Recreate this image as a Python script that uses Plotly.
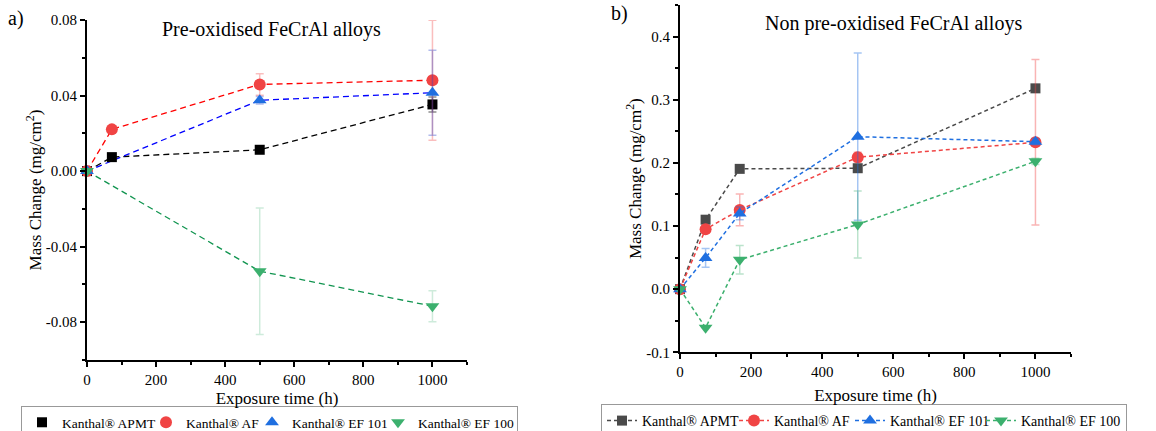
import plotly.graph_objects as go

# ---------------- data ----------------
series_names = ["Kanthal® APMT", "Kanthal® AF", "Kanthal® EF 101", "Kanthal® EF 100"]

# Panel a: pre-oxidised
a_apmt_x = [0, 72, 500, 1000]
a_apmt_y = [0.0, 0.0074, 0.0113, 0.0353]
a_apmt_err = [0, 0, 0, 0.004]

a_af_x = [0, 72, 500, 1000]
a_af_y = [0.0, 0.0221, 0.0459, 0.0481]
a_af_err = [0, 0, 0.0057, 0.0318]

a_ef101_x = [0, 500, 1000]
a_ef101_y = [0.0, 0.0375, 0.0415]
a_ef101_err = [0, 0.002, 0.0225]

a_ef100_x = [0, 500, 1000]
a_ef100_y = [0.0, -0.053, -0.0715]
a_ef100_err = [0, 0.0335, 0.0082]

# Panel b: non pre-oxidised
b_apmt_x = [0, 72, 168, 500, 1000]
b_apmt_y = [0.0, 0.110, 0.1905, 0.1915, 0.318]
b_apmt_err = [0, 0, 0, 0, 0]

b_af_x = [0, 72, 168, 500, 1000]
b_af_y = [0.0, 0.095, 0.1255, 0.209, 0.2325]
b_af_err = [0, 0.005, 0.025, 0.008, 0.131]

b_ef101_x = [0, 72, 168, 500, 1000]
b_ef101_y = [0.0, 0.0495, 0.120, 0.2415, 0.2335]
b_ef101_err = [0, 0.015, 0.01, 0.1325, 0.005]

b_ef100_x = [0, 72, 168, 500, 1000]
b_ef100_y = [0.0, -0.061, 0.0465, 0.1025, 0.2025]
b_ef100_err = [0, 0, 0.0225, 0.053, 0.005]

a_yticks = [-0.08, -0.04, 0.0, 0.04, 0.08]
a_yticktext = ["-0.08", "-0.04", "0.00", "0.04", "0.08"]
b_yticks = [-0.1, 0.0, 0.1, 0.2, 0.3, 0.4]
b_yticktext = ["-0.1", "0.0", "0.1", "0.2", "0.3", "0.4"]
xticks = [0, 200, 400, 600, 800, 1000]

# ---------------- styles ----------------
FONT = "Liberation Serif, Times New Roman, DejaVu Serif, serif"
a_marker_colors = ["#000000", "#F04444", "#1F6FE0", "#3CB06E"]
a_line_colors = ["#000000", "#FF0000", "#0000FF", "#10944F"]
a_err_colors = ["rgba(0,0,0,0.45)", "rgba(240,68,68,0.35)", "rgba(31,60,200,0.35)", "rgba(60,176,110,0.25)"]
b_colors = ["#4A4A4A", "#F04444", "#1F6FE0", "#3CB06E"]
b_err_colors = ["rgba(74,74,74,0.4)", "rgba(240,68,68,0.4)", "rgba(31,111,224,0.4)", "rgba(60,176,110,0.35)"]
symbols = ["square", "circle", "triangle-up", "triangle-down"]
sizes = [10, 12, 12, 12]
a_legend_w = [79, 61, 81, 94]
b_legend_w = [87, 71, 86, 100]

fig = go.Figure()

a_sets = [(a_apmt_x, a_apmt_y, a_apmt_err), (a_af_x, a_af_y, a_af_err),
          (a_ef101_x, a_ef101_y, a_ef101_err), (a_ef100_x, a_ef100_y, a_ef100_err)]
b_sets = [(b_apmt_x, b_apmt_y, b_apmt_err), (b_af_x, b_af_y, b_af_err),
          (b_ef101_x, b_ef101_y, b_ef101_err), (b_ef100_x, b_ef100_y, b_ef100_err)]

# panel a lines
for i, (x, y, e) in enumerate(a_sets):
    fig.add_trace(go.Scatter(x=x, y=y, mode="lines", xaxis="x", yaxis="y",
                             line=dict(color=a_line_colors[i], width=1.3, dash="6px,4px"),
                             showlegend=False, hoverinfo="skip"))
# panel a markers + error bars
for i, (x, y, e) in enumerate(a_sets):
    fig.add_trace(go.Scatter(x=x, y=y, mode="markers", xaxis="x", yaxis="y",
                             name=series_names[i], legend="legend", legendwidth=a_legend_w[i],
                             marker=dict(symbol=symbols[i], size=sizes[i], color=a_marker_colors[i]),
                             error_y=dict(type="data", array=e, visible=True, color=a_err_colors[i],
                                          thickness=1.5, width=4),
                             cliponaxis=False))
# panel b
for i, (x, y, e) in enumerate(b_sets):
    fig.add_trace(go.Scatter(x=x, y=y, mode="lines+markers", xaxis="x2", yaxis="y2",
                             name=series_names[i], legend="legend2", legendwidth=b_legend_w[i],
                             line=dict(color=b_colors[i], width=1.5, dash="4px,3px"),
                             marker=dict(symbol=symbols[i], size=sizes[i], color=b_colors[i]),
                             error_y=dict(type="data", array=e, visible=True, color=b_err_colors[i],
                                          thickness=1.5, width=4),
                             cliponaxis=False))

W, H = 1156, 431
TICKF = dict(family=FONT, size=15, color="black")
TITLEF = dict(family=FONT, size=17, color="black")
axis_common = dict(showline=True, linecolor="black", linewidth=2, ticks="outside",
                   tickcolor="black", tickwidth=2, ticklen=5, showgrid=False, zeroline=False,
                   tickfont=TICKF, mirror=False)
minor_x = dict(ticks="outside", ticklen=3, tickwidth=1.5, tickcolor="black", tick0=0, dtick=100)

fig.update_layout(
    width=W, height=H, plot_bgcolor="white", paper_bgcolor="white",
    margin=dict(l=0, r=0, t=0, b=0, autoexpand=False),
    font=dict(family=FONT, color="black"),
    xaxis=dict(domain=[87 / W, 467 / W], range=[0, 1100], tickvals=xticks, anchor="y",
               title=dict(text="Exposure time (h)", standoff=5, font=TITLEF),
               minor=minor_x, **axis_common),
    yaxis=dict(domain=[(H - 360) / H, (H - 20) / H], range=[-0.1, 0.08], tickvals=a_yticks,
               ticktext=a_yticktext, anchor="x",
               title=dict(text="Mass Change (mg/cm<sup>2</sup>)", standoff=0, font=TITLEF),
               minor=dict(ticks="outside", ticklen=3, tickwidth=1.5, tickcolor="black", tick0=0, dtick=0.02),
               **axis_common),
    xaxis2=dict(domain=[680 / W, 1071 / W], range=[0, 1100], tickvals=xticks, anchor="y2",
                title=dict(text="Exposure time (h)", standoff=10, font=TITLEF),
                minor=minor_x, **axis_common),
    yaxis2=dict(domain=[(H - 352.3) / H, (H - 5) / H], range=[-0.1, 0.45], tickvals=b_yticks,
                ticktext=b_yticktext, anchor="x2",
                title=dict(text="Mass Change (mg/cm<sup>2</sup>)", standoff=0, font=TITLEF),
                minor=dict(ticks="outside", ticklen=3, tickwidth=1.5, tickcolor="black", tick0=0, dtick=0.05),
                **axis_common),
    legend=dict(orientation="h", x=21 / W, xanchor="left", y=(H - 406) / H, yanchor="top",
                bordercolor="#999999", borderwidth=1, bgcolor="white",
                font=dict(family=FONT, size=13.5, color="black"),
                itemwidth=30, tracegroupgap=0),
    legend2=dict(orientation="h", x=601 / W, xanchor="left", y=(H - 404) / H, yanchor="top",
                 bordercolor="#999999", borderwidth=1, bgcolor="white",
                 font=dict(family=FONT, size=14, color="black"),
                 itemwidth=30, tracegroupgap=0),
    annotations=[
        dict(text="Pre-oxidised FeCrAl alloys", x=271 / W, y=(H - 29) / H, xref="paper", yref="paper",
             xanchor="center", yanchor="middle",
             showarrow=False, font=dict(family=FONT, size=20, color="black")),
        dict(text="Non pre-oxidised FeCrAl alloys", x=893 / W, y=(H - 23) / H, xref="paper", yref="paper",
             xanchor="center", yanchor="middle",
             showarrow=False, font=dict(family=FONT, size=20, color="black")),
        dict(text="a)", x=16 / W, y=(H - 18) / H, xref="paper", yref="paper",
             xanchor="center", yanchor="middle",
             showarrow=False, font=dict(family=FONT, size=20, color="black")),
        dict(text="b)", x=619 / W, y=(H - 14) / H, xref="paper", yref="paper",
             xanchor="center", yanchor="middle",
             showarrow=False, font=dict(family=FONT, size=20, color="black")),
    ],
)

fig.write_html("out.html", config={"displayModeBar": False},
               post_script="document.body.style.margin='0';document.body.style.overflow='hidden';")
